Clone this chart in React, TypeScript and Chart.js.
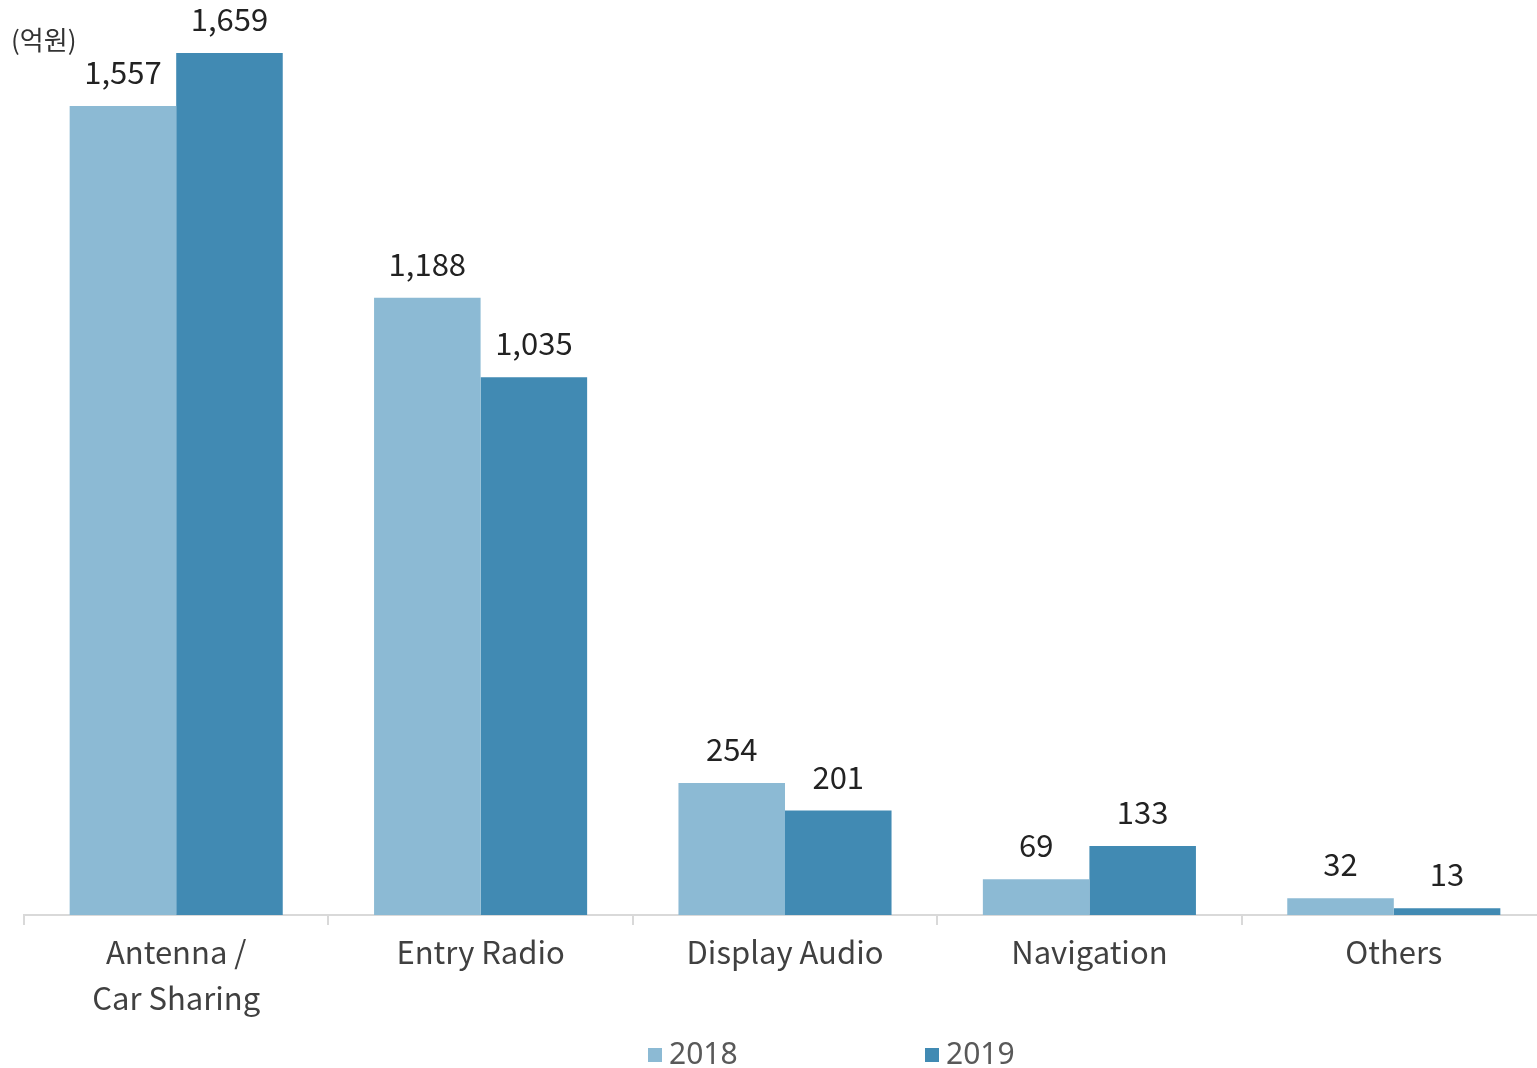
import React, { useEffect, useRef } from "react";
import { Chart, registerables } from "chart.js";

Chart.register(...registerables);

const categories: (string | string[])[] = [
  ["Antenna /", "Car Sharing"],
  "Entry Radio",
  "Display Audio",
  "Navigation",
  "Others",
];
const values2018 = [1557, 1188, 254, 69, 32];
const values2019 = [1659, 1035, 201, 133, 13];
const seriesNames = ["2018", "2019"];
const colors = ["#8CBAD4", "#418AB3"];
const unitLabel = "(억원)";

const FONT = "'Noto Sans CJK KR', 'Noto Sans', sans-serif";

const valueLabelPlugin = {
  id: "valueLabels",
  afterDatasetsDraw(chart: any) {
    const ctx = chart.ctx;
    ctx.save();
    ctx.font = `31px ${FONT}`;
    ctx.fillStyle = "#222222";
    ctx.textAlign = "center";
    ctx.textBaseline = "alphabetic";
    chart.data.datasets.forEach((ds: any, di: number) => {
      const meta = chart.getDatasetMeta(di);
      meta.data.forEach((bar: any, i: number) => {
        const v = ds.data[i] as number;
        ctx.fillText(v.toLocaleString("en-US"), bar.x, bar.y - 22);
      });
    });
    // unit label
    ctx.font = `26px ${FONT}`;
    ctx.fillStyle = "#333333";
    ctx.textAlign = "left";
    ctx.textBaseline = "middle";
    ctx.fillText(unitLabel, 11, 40);
    // legend
    const legendX = [648, 925];
    ctx.font = `30px 'Noto Sans', ${FONT}`;
    seriesNames.forEach((name, i) => {
      ctx.fillStyle = colors[i];
      ctx.fillRect(legendX[i], 1048, 14, 14);
      ctx.fillStyle = "#595959";
      ctx.fillText(name, legendX[i] + 21, 1055);
    });
    ctx.restore();
  },
};

export default function App() {
  const ref = useRef<HTMLCanvasElement>(null);
  useEffect(() => {
    if (!ref.current) return;
    const chart = new Chart(ref.current, {
      type: "bar",
      data: {
        labels: categories,
        datasets: [
          {
            label: seriesNames[0],
            data: values2018,
            backgroundColor: colors[0],
            categoryPercentage: 0.7,
            barPercentage: 1.0,
          },
          {
            label: seriesNames[1],
            data: values2019,
            backgroundColor: colors[1],
            categoryPercentage: 0.7,
            barPercentage: 1.0,
          },
        ],
      },
      options: {
        animation: false,
        responsive: false,
        maintainAspectRatio: false,
        devicePixelRatio: 1,
        layout: { padding: { left: 24, right: 0, top: 0, bottom: 0 } },
        plugins: {
          legend: { display: false },
          tooltip: { enabled: false },
        },
        scales: {
          x: {
            offset: true,
            grid: {
              display: true,
              offset: true,
              drawOnChartArea: false,
              drawTicks: true,
              tickLength: 10,
              color: "#D9D9D9",
              lineWidth: 2,
            },
            border: { display: true, color: "#D9D9D9", width: 2 },
            ticks: {
              color: "#404040",
              font: { family: FONT, size: 31, lineHeight: 1.48 },
              padding: 4,
              maxRotation: 0,
              autoSkip: false,
            },
            afterFit(scale: any) {
              scale.height = 153;
            },
          },
          y: {
            display: false,
            min: 0,
            max: 1761,
          },
        },
      },
      plugins: [valueLabelPlugin],
    });
    return () => chart.destroy();
  }, []);
  return (
    <div
      style={{
        position: "fixed",
        left: 0,
        top: 0,
        width: 1537,
        height: 1068,
        overflow: "hidden",
        background: "#fff",
      }}
    >
      <canvas ref={ref} width={1546} height={1068} style={{ width: 1546, height: 1068, display: "block" }} />
    </div>
  );
}
